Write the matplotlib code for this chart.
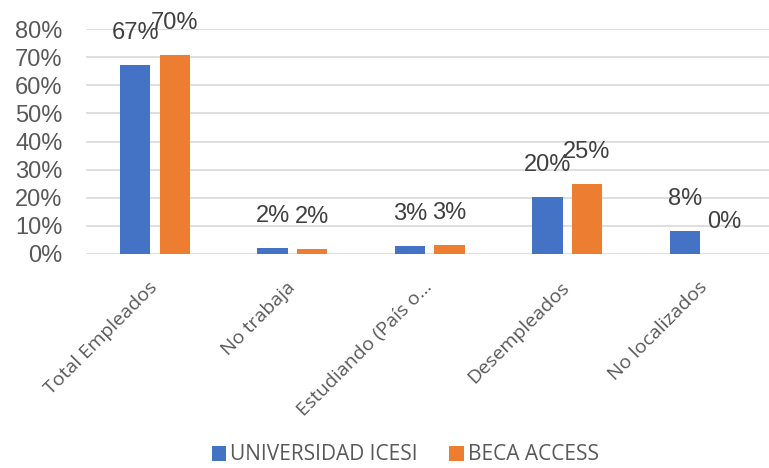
import numpy as np
import matplotlib.pyplot as plt
from matplotlib.ticker import PercentFormatter

categories = ['Total Empleados', 'No trabaja', 'Estudiando (País o...', 'Desempleados', 'No localizados']
icesi = [0.672, 0.020, 0.030, 0.202, 0.081]
beca = [0.708, 0.016, 0.033, 0.249, 0.0]
icesi_labels = ['67%', '2%', '3%', '20%', '8%']
beca_labels = ['70%', '2%', '3%', '25%', '0%']
series_names = ['UNIVERSIDAD ICESI', 'BECA ACCESS']

blue = '#4472c4'
orange = '#ed7d31'
grey = '#595959'

fig = plt.figure(figsize=(7.69, 4.68), dpi=100)
ax = fig.add_axes([86/769, 1 - 254/468, 687/769, 225/468])

x = np.arange(len(categories))
w = 0.22
b1 = ax.bar(x - 0.142, icesi, w, color=blue, label=series_names[0], zorder=3)
b2 = ax.bar(x + 0.145, beca, w, color=orange, label=series_names[1], zorder=3)

for xs, vals, labs in [(x - 0.142, icesi, icesi_labels), (x + 0.145, beca, beca_labels)]:
    for xi, v, lab in zip(xs, vals, labs):
        ax.annotate(lab, (xi, v), xytext=(0, 32), textcoords='offset pixels',
                    ha='center', va='center', fontsize=17, color='#404040',
                    family='Liberation Sans', annotation_clip=False)

ax.set_xlim(-0.5, 4.5)
ax.set_ylim(0, 0.8)
ax.set_yticks(np.arange(0, 0.81, 0.1))
ax.yaxis.set_major_formatter(PercentFormatter(1.0, decimals=0))
ax.grid(axis='y', color='#d9d9d9', linewidth=1.2, zorder=0)
ax.set_axisbelow(True)
for s in ax.spines.values():
    s.set_visible(False)
ax.tick_params(axis='y', length=0, pad=17, labelsize=17, labelcolor=grey)
for t in ax.get_yticklabels():
    t.set_family('Liberation Sans')

ax.set_xticks(x)
ax.set_xticklabels(categories, rotation=45, ha='right', va='center',
                   rotation_mode='anchor', fontsize=14, color=grey, family='Open Sans')
ax.tick_params(axis='x', length=0, pad=22)

fig.legend(handles=[b1, b2], labels=series_names, loc='center', bbox_to_anchor=(0.527, 1 - 455/468),
           ncol=2, frameon=False, prop={'family': 'Open Sans', 'size': 15},
           labelcolor=grey, handlelength=0.7, handleheight=0.7, handletextpad=0.2, columnspacing=1.5,
           borderpad=0.2)

fig.savefig('out.png', dpi=100)
